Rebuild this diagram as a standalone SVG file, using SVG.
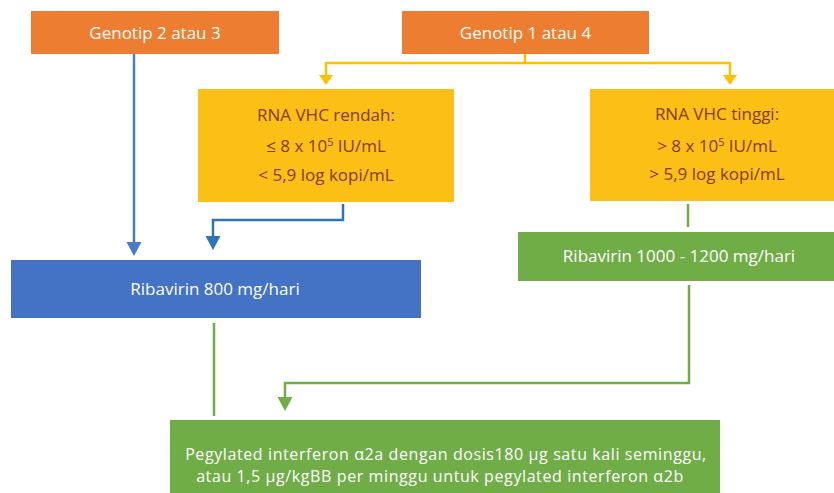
<svg xmlns="http://www.w3.org/2000/svg" width="834" height="493" viewBox="0 0 834 493">
<style>
text{font-family:"Open Sans","Liberation Sans",sans-serif;font-size:17px;text-anchor:middle}
.w{fill:#ffffff}
.b{fill:#843C0C}
.sup{font-size:11px}
.c{fill:none;stroke-width:2.5}
.sm{font-size:16px;letter-spacing:0.6px}
</style>
<rect width="834" height="493" fill="#ffffff"/>
<g id="connectors">
<path class="c" d="M525,54 V63 M326,63 H730 M326,62 V76 M730,62 V76" stroke="#FFC000" stroke-width="2"/>
<path d="M319,75 H333 L326,85 Z M723,75 H737 L730,85 Z" fill="#FFC000"/>
<path class="c" d="M134,54 V243" stroke="#4A7BC4"/>
<path d="M126.5,242 H141.5 L134,256 Z" fill="#4A7BC4"/>
<path class="c" d="M343,204 V220 H213 V237" stroke="#2E75B6"/>
<path d="M205.5,236 H220.5 L213,250 Z" fill="#2E75B6"/>
<path class="c" d="M688,204 V227" stroke="#70AD47"/>
<path class="c" d="M689,285 V383 H285 V398" stroke="#70AD47"/>
<path d="M277.5,397 H292.5 L285,411 Z" fill="#70AD47"/>
<path class="c" d="M214,323 V416" stroke="#70AD47"/>
</g>
<g id="genotip23">
<rect x="31" y="11" width="248" height="43" fill="#ED7D31"/>
<text class="w" x="155" y="39">Genotip 2 atau 3</text>
</g>
<g id="genotip14">
<rect x="402" y="11" width="247" height="43" fill="#ED7D31"/>
<text class="w" x="525.5" y="39">Genotip 1 atau 4</text>
</g>
<g id="rendah">
<rect x="198" y="89" width="256" height="113" fill="#FBBF16"/>
<text class="b" x="326" y="121">RNA VHC rendah:</text>
<text class="b" x="326" y="152">≤ 8 x 10<tspan class="sup" dy="-6">5</tspan><tspan dy="6"> IU/mL</tspan></text>
<text class="b" x="326" y="181">&lt; 5,9 log kopi/mL</text>
</g>
<g id="tinggi">
<rect x="590" y="89" width="256" height="112" fill="#FBBF16"/>
<text class="b" x="717" y="120">RNA VHC tinggi:</text>
<text class="b" x="717" y="152">&gt; 8 x 10<tspan class="sup" dy="-6">5</tspan><tspan dy="6"> IU/mL</tspan></text>
<text class="b" x="717" y="180">&gt; 5,9 log kopi/mL</text>
</g>
<g id="riba800">
<rect x="11" y="260" width="410" height="58" fill="#4472C4"/>
<text class="w" x="215" y="295">Ribavirin 800 mg/hari</text>
</g>
<g id="riba1000">
<rect x="518" y="232" width="322" height="49" fill="#70AD47"/>
<text class="w" x="679" y="262">Ribavirin 1000 - 1200 mg/hari</text>
</g>
<g id="pegylated">
<rect x="170" y="420" width="550" height="73" fill="#70AD47"/>
<text class="w sm" x="446" y="460">Pegylated interferon α2a dengan dosis180 µg satu kali seminggu,</text>
<text class="w sm" x="440" y="482">atau 1,5 µg/kgBB per minggu untuk pegylated interferon α2b</text>
</g>
</svg>
